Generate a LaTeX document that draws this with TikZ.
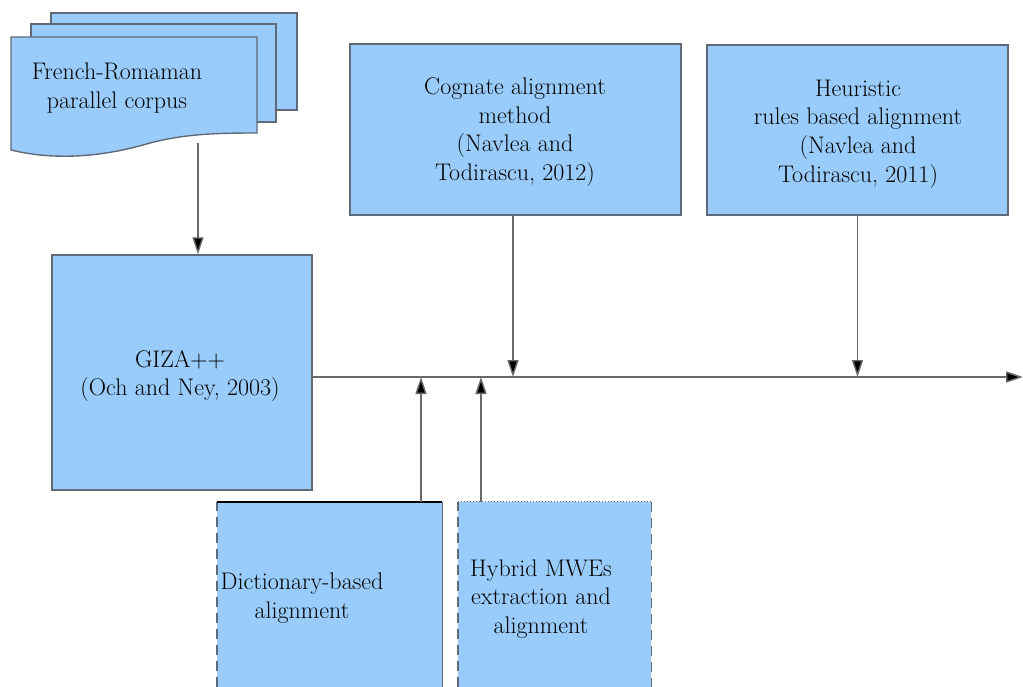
\documentclass[tikz,border=0pt]{standalone}
\usepackage{fontspec}
\usetikzlibrary{arrows.meta}
\definecolor{boxfill}{RGB}{153,204,250}
\definecolor{boxline}{RGB}{95,105,120}
\definecolor{lnc}{RGB}{105,105,105}
\begin{document}
\begin{tikzpicture}[x=1pt,y=-1pt,
  txt/.style={align=center,inner sep=0pt,font=\fontsize{24}{28.7}\selectfont},
  box/.style={txt,draw=boxline,fill=boxfill,line width=1.4pt},
  page/.style={draw=boxline,fill=boxfill,line width=1.4pt},
  arr/.style={draw=lnc,line width=1.4pt,-{Triangle[length=17pt,width=11pt,fill=black]}}]
\useasboundingbox (0,0) rectangle (1023,687);
% corpus (stacked documents)
\draw[page] (51,13) rectangle (297,110);
\draw[page] (31,24) rectangle (276,122);
\draw[page] (11,37) -- (257,37) -- (257,133)
  .. controls (215,133) and (185,134) .. (150,143)
  .. controls (110,155) and (60,162) .. (11,150) -- cycle;
\node[txt] (corpus) at (117,88) {French-Romaman\\parallel corpus};
\coordinate (corpusout) at (198,143);
% GIZA
\node[box,minimum width=260pt,minimum height=235pt] (giza) at (182,372.5) {};
\node[txt] (gizatext) at (180,376) {GIZA++\\(Och and Ney, 2003)};
\coordinate (gizaout) at (312,377);
\coordinate (out) at (1023,377);
% top boxes
\node[box,minimum width=331pt,minimum height=171pt] (cog) at (515.5,129.5) {};
\node[txt] (cogtext) at (515,132) {Cognate alignment\\method\\(Navlea and\\Todirascu, 2012)};
\node[box,minimum width=301pt,minimum height=170pt] (heu) at (857.5,130) {};
\node[txt] (heutext) at (858,134) {Heuristic\\rules based alignment\\(Navlea and\\Todirascu, 2011)};
% bottom boxes
\node[fill=boxfill,inner sep=0pt,minimum width=225pt,minimum height=185pt] (dict) at (329.5,594.5) {};
\draw[boxline,line width=1.4pt,dash pattern=on 10pt off 6pt] (dict.south west) -- (dict.north west);
\draw[black,line width=1.4pt] (dict.north west) -- (dict.north east);
\draw[boxline,line width=1.4pt] (dict.north east) -- (dict.south east);
\node[txt] (dicttext) at (302,598) {Dictionary-based\\alignment};
\node[fill=boxfill,inner sep=0pt,minimum width=193pt,minimum height=185pt] (hyb) at (554.5,594.5) {};
\draw[boxline,line width=1.4pt,dash pattern=on 10pt off 6pt] (hyb.south west) -- (hyb.north west);
\draw[boxline,line width=1.0pt,dotted] (hyb.north west) -- (hyb.north east);
\draw[boxline,line width=1.4pt,dash pattern=on 10pt off 6pt] (hyb.north east) -- (hyb.south east);
\node[txt] (hybtext) at (541,599) {Hybrid MWEs\\extraction and\\alignment};
\coordinate (dictout) at (421,502);
\coordinate (hybout) at (481,502);
% connectors
\draw[arr] (corpusout) -- (corpusout |- giza.north);
\draw[arr] (gizaout) -- (out);
\draw[arr] ([xshift=-2.5pt]cog.south) -- ([xshift=-2.5pt]cog.south |- gizaout);
\draw[arr] (heu.south) -- (heu.south |- gizaout);
\draw[arr] (dictout) -- (dictout |- gizaout);
\draw[arr] (hybout) -- (hybout |- gizaout);
\end{tikzpicture}
\end{document}
